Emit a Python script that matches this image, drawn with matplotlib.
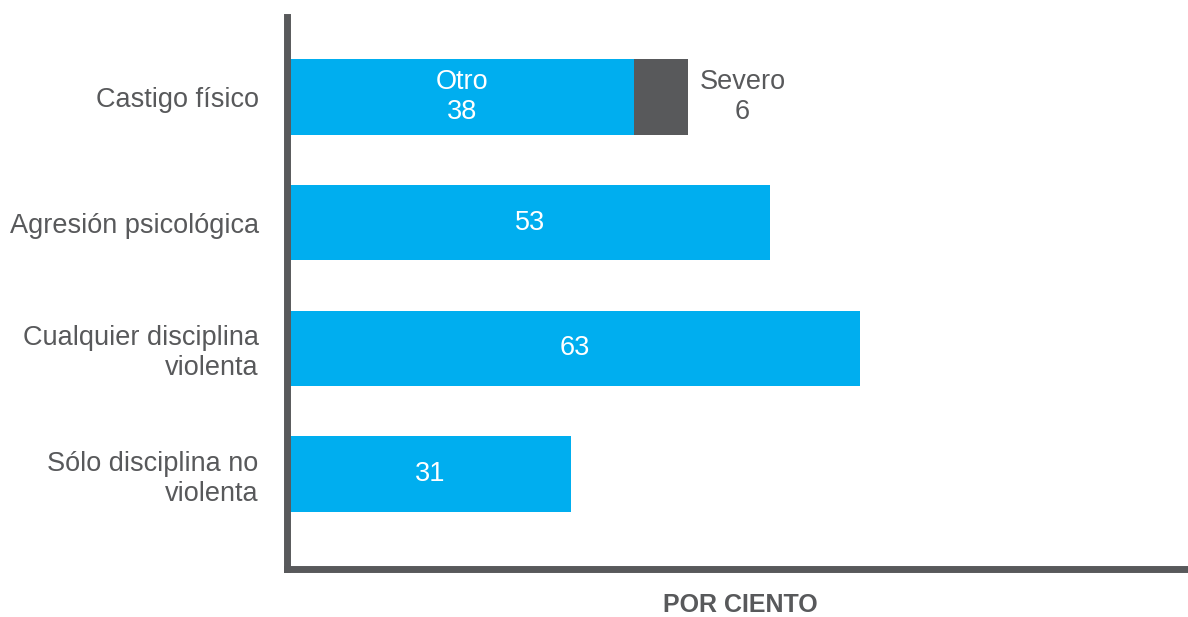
import matplotlib.pyplot as plt

# Data
categories = ["Castigo físico", "Agresión psicológica",
              "Cualquier disciplina\nviolenta", "Sólo disciplina no\nviolenta"]
main_values = [38, 53, 63, 31]
severe_values = [6, 0, 0, 0]
main_labels = ["Otro\n38", "53", "63", "31"]
severe_label = "Severo\n6"

BLUE = "#00AEEF"
GRAY = "#58595B"

plt.rcParams["font.family"] = ["Liberation Sans", "DejaVu Sans"]

fig = plt.figure(figsize=(11.88, 6.17), dpi=100)
W, H = 1188, 617
ax = fig.add_axes([286.5 / W, (H - 568.5) / H, (W - 286.5) / W, (568.5 - 17.5) / H])

y = list(range(len(categories)))
ax.barh(y, main_values, height=0.6, color=BLUE, left=0.4)
ax.barh(y, severe_values, height=0.6, color=GRAY,
        left=[m + 0.4 for m in main_values])

# value labels inside bars
for yi, v, lab in zip(y, main_values, main_labels):
    ax.text(v / 2 + 0.4, yi, lab, ha="center", va="center", color="white",
            fontsize=19.5, linespacing=1.2)

# label for the severe segment
ax.text(main_values[0] + severe_values[0] + 6.4, 0, severe_label, ha="center",
        va="center", color=GRAY, fontsize=19.5, linespacing=1.2)

ax.set_xlim(0, 99.6)
ax.set_ylim(3.75, -0.632)
ax.set_yticks(y)
ax.set_yticklabels(categories, fontsize=19.5, color=GRAY, linespacing=1.2)
ax.tick_params(axis="y", length=0, pad=20)
ax.set_xticks([])

for side in ["top", "right"]:
    ax.spines[side].set_visible(False)
for side in ["left", "bottom"]:
    ax.spines[side].set_linewidth(5)
    ax.spines[side].set_color(GRAY)

ax.set_xlabel("POR CIENTO", fontsize=18, fontweight="bold", color=GRAY)
ax.xaxis.set_label_coords(454 / (W - 286.5), -0.045)

fig.savefig("out.png", dpi=100)
